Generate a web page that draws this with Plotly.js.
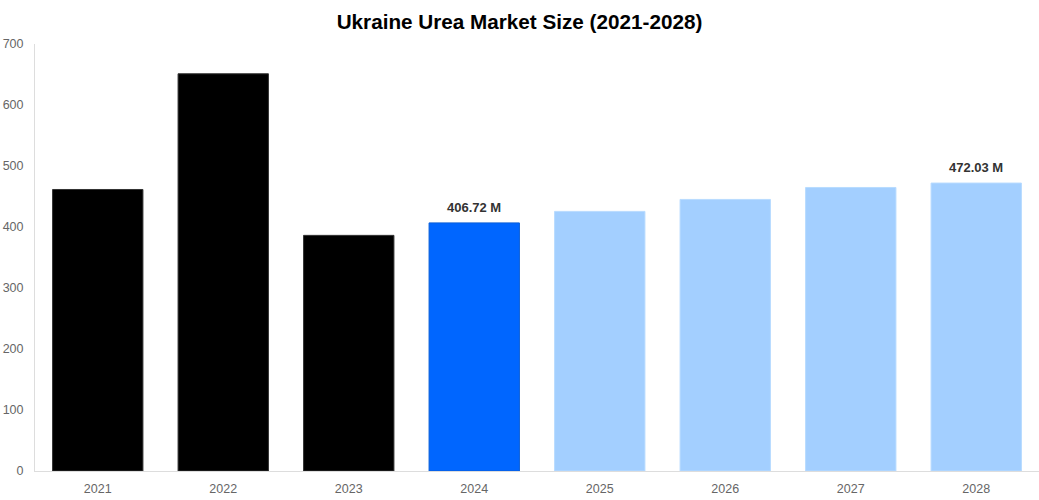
<!DOCTYPE html>
<html>
<head>
<meta charset="utf-8">
<script src="https://cdn.plot.ly/plotly-3.0.1.min.js"></script>
<style>
  html, body { margin: 0; padding: 0; background: #fff; }
  #chart { width: 1039px; height: 500px; }
</style>
</head>
<body>
<div id="chart"></div>
<script>
var years = ['2021', '2022', '2023', '2024', '2025', '2026', '2027', '2028'];
var marketSize = [461.5, 651.2, 386.3, 406.72, 425.6, 445.2, 464.8, 472.03];
var barLabels = ['', '', '', '406.72 M', '', '', '', '472.03 M'];
var barColors = ['#000000', '#000000', '#000000', '#0066ff', '#a3cfff', '#a3cfff', '#a3cfff', '#a3cfff'];
var lineColors = ['#333333', '#333333', '#333333', '#0a5fd8', '#b8dbff', '#b8dbff', '#b8dbff', '#b8dbff'];

var trace = {
    x: years,
    y: marketSize,
    type: 'bar',
    marker: {
        color: barColors,
        line: { color: lineColors, width: 1 }
    },
    hoverinfo: 'x+y'
};

// value labels above selected bars (x = category index)
var annots = [];
years.forEach(function (yr, i) {
    if (!barLabels[i]) return;
    annots.push({
        x: i,
        y: marketSize[i],
        xref: 'x',
        yref: 'y',
        text: '<b>' + barLabels[i] + '</b>',
        showarrow: false,
        yanchor: 'bottom',
        yshift: 6,
        font: { family: 'Liberation Sans, Arial, sans-serif', size: 13, color: '#333333' }
    });
});

var layout = {
    width: 1039,
    height: 500,
    margin: { l: 35, r: 0, t: 44, b: 29 },
    paper_bgcolor: '#ffffff',
    plot_bgcolor: '#ffffff',
    bargap: 0.28,
    showlegend: false,
    font: { family: 'Liberation Sans, Arial, sans-serif', color: '#666666', size: 12 },
    title: {
        text: '<b>Ukraine Urea Market Size (2021-2028)</b>',
        font: { family: 'Liberation Sans, Arial, sans-serif', size: 20.7, color: '#000000' },
        x: 0.5,
        xanchor: 'center',
        y: 0.956,
        yanchor: 'middle'
    },
    annotations: annots,
    xaxis: {
        type: 'category',
        range: [-0.5, years.length - 0.5],
        showgrid: false,
        showline: true,
        linecolor: '#dddddd',
        linewidth: 1,
        ticks: '',
        ticklabelstandoff: 6,
        tickfont: { size: 12.5, color: '#666666' }
    },
    yaxis: {
        range: [0, 700],
        dtick: 100,
        showgrid: false,
        zeroline: false,
        showline: true,
        linecolor: '#dddddd',
        linewidth: 1,
        ticks: '',
        ticklabelstandoff: 8,
        tickfont: { size: 12.5, color: '#666666' }
    }
};

Plotly.newPlot('chart', [trace], layout, { displayModeBar: false, staticPlot: true });
</script>
</body>
</html>
